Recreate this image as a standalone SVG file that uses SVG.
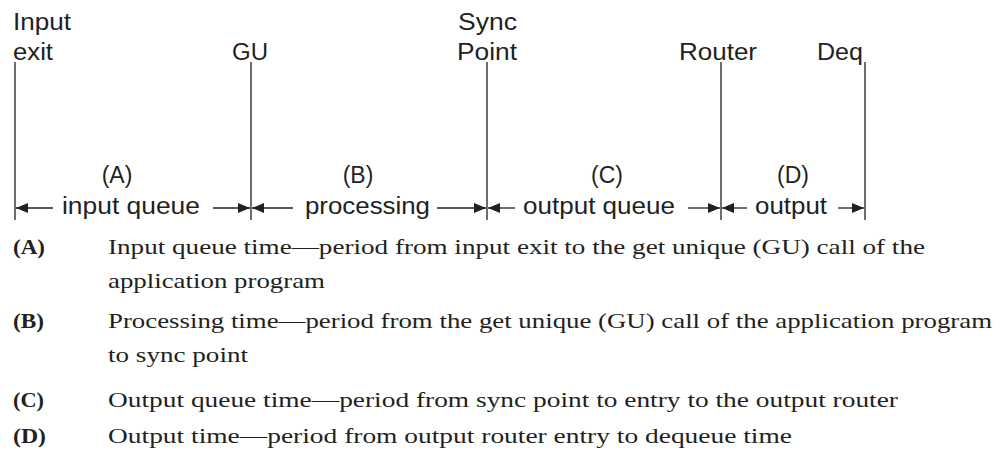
<svg xmlns="http://www.w3.org/2000/svg" width="1007" height="464" viewBox="0 0 1007 464">
<style>
.s{font-family:"Liberation Sans",Arial,sans-serif;font-size:23px;fill:#231f20}
.m{text-anchor:middle}
.b{font-family:"Liberation Serif","Times New Roman",serif;font-size:22px;fill:#231f20}
.bb{font-weight:bold}
.ln{stroke:#231f20;stroke-width:1.3;fill:none}
</style>
<defs>
<marker id="ah" viewBox="0 0 12 10" refX="12" refY="5" markerWidth="12" markerHeight="10" markerUnits="userSpaceOnUse" orient="auto-start-reverse">
<path d="M0,0 L12,5 L0,10 Z" fill="#231f20"/>
</marker>
</defs>
<rect width="1007" height="464" fill="#ffffff"/>
<g id="node-input">
<text class="s" x="13" y="30" textLength="58" lengthAdjust="spacingAndGlyphs">Input</text>
<text class="s" x="13" y="60" textLength="40" lengthAdjust="spacingAndGlyphs">exit</text>
</g>
<g id="node-gu">
<text class="s" x="232" y="60" textLength="36" lengthAdjust="spacingAndGlyphs">GU</text>
</g>
<g id="node-sync">
<text class="s" x="458" y="30" textLength="59" lengthAdjust="spacingAndGlyphs">Sync</text>
<text class="s" x="457" y="60" textLength="60" lengthAdjust="spacingAndGlyphs">Point</text>
</g>
<g id="node-router">
<text class="s" x="679" y="60" textLength="78" lengthAdjust="spacingAndGlyphs">Router</text>
</g>
<g id="node-deq">
<text class="s" x="817" y="60" textLength="46" lengthAdjust="spacingAndGlyphs">Deq</text>
</g>
<g id="connectors">
<line class="ln" x1="15" y1="62" x2="15" y2="220"/>
<line class="ln" x1="251" y1="62" x2="251" y2="220"/>
<line class="ln" x1="487" y1="62" x2="487" y2="220"/>
<line class="ln" x1="721" y1="62" x2="721" y2="220"/>
<line class="ln" x1="865" y1="62" x2="865" y2="220"/>
<line class="ln" x1="53" y1="208" x2="16" y2="208" marker-end="url(#ah)"/>
<line class="ln" x1="213" y1="208" x2="250" y2="208" marker-end="url(#ah)"/>
<line class="ln" x1="293" y1="208" x2="252" y2="208" marker-end="url(#ah)"/>
<line class="ln" x1="437" y1="208" x2="486" y2="208" marker-end="url(#ah)"/>
<line class="ln" x1="515" y1="208" x2="488" y2="208" marker-end="url(#ah)"/>
<line class="ln" x1="688" y1="208" x2="720" y2="208" marker-end="url(#ah)"/>
<line class="ln" x1="747" y1="208" x2="722" y2="208" marker-end="url(#ah)"/>
<line class="ln" x1="838" y1="208" x2="864" y2="208" marker-end="url(#ah)"/>
</g>
<g id="span-a">
<text class="s m" x="117" y="183">(A)</text>
<text class="s" x="62" y="214" textLength="138" lengthAdjust="spacingAndGlyphs">input queue</text>
</g>
<g id="span-b">
<text class="s m" x="358" y="183">(B)</text>
<text class="s" x="305" y="214" textLength="125" lengthAdjust="spacingAndGlyphs">processing</text>
</g>
<g id="span-c">
<text class="s m" x="607" y="183">(C)</text>
<text class="s" x="523" y="214" textLength="152" lengthAdjust="spacingAndGlyphs">output queue</text>
</g>
<g id="span-d">
<text class="s m" x="793" y="183">(D)</text>
<text class="s" x="755" y="214" textLength="72" lengthAdjust="spacingAndGlyphs">output</text>
</g>
<g id="legend">
<text class="b bb" x="13" y="254" textLength="32" lengthAdjust="spacingAndGlyphs">(A)</text>
<text class="b" x="108" y="254" textLength="817" lengthAdjust="spacingAndGlyphs">Input queue time—period from input exit to the get unique (GU) call of the</text>
<text class="b" x="108" y="288" textLength="217" lengthAdjust="spacingAndGlyphs">application program</text>
<text class="b bb" x="13" y="328" textLength="31" lengthAdjust="spacingAndGlyphs">(B)</text>
<text class="b" x="108" y="328" textLength="884" lengthAdjust="spacingAndGlyphs">Processing time—period from the get unique (GU) call of the application program</text>
<text class="b" x="108" y="362" textLength="140" lengthAdjust="spacingAndGlyphs">to sync point</text>
<text class="b bb" x="13" y="407" textLength="31" lengthAdjust="spacingAndGlyphs">(C)</text>
<text class="b" x="108" y="407" textLength="790" lengthAdjust="spacingAndGlyphs">Output queue time—period from sync point to entry to the output router</text>
<text class="b bb" x="13" y="443" textLength="33" lengthAdjust="spacingAndGlyphs">(D)</text>
<text class="b" x="108" y="443" textLength="684" lengthAdjust="spacingAndGlyphs">Output time—period from output router entry to dequeue time</text>
</g>
</svg>
